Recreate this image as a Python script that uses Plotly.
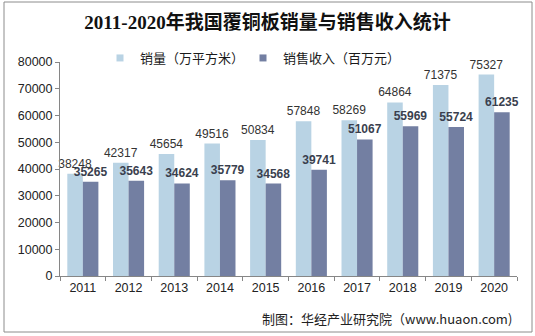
import plotly.graph_objects as go

years = ["2011", "2012", "2013", "2014", "2015", "2016", "2017", "2018", "2019", "2020"]
sales_volume = [38248, 42317, 45654, 49516, 50834, 57848, 58269, 64864, 71375, 75327]
sales_revenue = [35265, 35643, 34624, 35779, 34568, 39741, 51067, 55969, 55724, 61235]
y_ticks = [0, 10000, 20000, 30000, 40000, 50000, 60000, 70000, 80000]

c_light = "#B9D3E4"
c_dark = "#737FA2"

fig = go.Figure()
fig.add_trace(go.Bar(
    x=years, y=sales_volume, name="销量（万平方米）", showlegend=False,
    marker=dict(color=c_light, line=dict(width=0)),
    text=[str(v) for v in sales_volume], textposition="outside", constraintext="none",
    textfont=dict(family="Liberation Sans, Arial", size=12, color="#333333"),
    cliponaxis=False,
))
fig.add_trace(go.Bar(
    x=years, y=sales_revenue, name="销售收入（百万元）", showlegend=False,
    marker=dict(color=c_dark, line=dict(width=0)),
    text=[str(v) for v in sales_revenue], textposition="outside", constraintext="none",
    textfont=dict(family="Liberation Sans, Arial", size=12, color="#3A3F4E", weight="bold"),
    cliponaxis=False,
))
# legend entries with small square markers, each in its own legend box
fig.add_trace(go.Scatter(x=[None], y=[None], mode="markers", name="销量（万平方米）",
                         marker=dict(symbol="square", size=7, color=c_light), legend="legend"))
fig.add_trace(go.Scatter(x=[None], y=[None], mode="markers", name="销售收入（百万元）",
                         marker=dict(symbol="square", size=7, color=c_dark), legend="legend2"))

leg_common = dict(orientation="h", xanchor="left", yanchor="middle", y=(276-58)/214,
                  font=dict(family="Noto Sans CJK SC", size=13, color="#1a1a1a"),
                  bgcolor="rgba(0,0,0,0)", itemwidth=30)

fig.update_layout(
    width=535, height=336,
    margin=dict(l=60, r=18, t=62, b=60),
    paper_bgcolor="white", plot_bgcolor="white",
    barmode="group", bargap=0.32, bargroupgap=0,
    title=dict(text="<b>2011-2020年我国覆铜板销量与销售收入统计</b>",
               x=0.5, xref="container", xanchor="center", y=1 - 22/336, yanchor="middle",
               font=dict(family="Liberation Serif, Noto Sans CJK SC", size=19, color="#111111")),
    legend=dict(x=(100-60)/457, **leg_common),
    legend2=dict(x=(243-60)/457, **leg_common),
    font=dict(family="Liberation Sans, Arial", size=12, color="#222222"),
    showlegend=True,
)
fig.update_xaxes(
    type="category", showgrid=False, showline=True, linecolor="#868686", linewidth=1,
    ticks="outside", tickson="boundaries", ticklen=4, tickcolor="#868686",
    tickfont=dict(family="Liberation Sans, Arial", size=12.5, color="#222222"),
)
fig.update_yaxes(
    range=[0, 80000], tickvals=y_ticks, ticktext=[str(v) for v in y_ticks],
    showgrid=False, zeroline=False,
    showline=True, linecolor="#868686", linewidth=1,
    ticks="outside", ticklen=4, tickcolor="#868686",
    tickfont=dict(family="Liberation Sans, Arial", size=12.5, color="#222222"),
)

fig.add_shape(type="rect", xref="paper", yref="paper",
              x0=(4-60)/457, x1=(532-60)/457, y0=(276-332)/214, y1=(276-2)/214,
              line=dict(color="#8C8C8C", width=1), fillcolor="rgba(0,0,0,0)")
fig.add_annotation(text="制图：华经产业研究院（www.huaon.com)", xref="paper", yref="paper",
                   x=(514-60)/457, xanchor="right", y=(276-318)/214, yanchor="middle",
                   showarrow=False, font=dict(family="Noto Sans CJK SC", size=13, color="#222222"))

fig.write_html("out.html")
